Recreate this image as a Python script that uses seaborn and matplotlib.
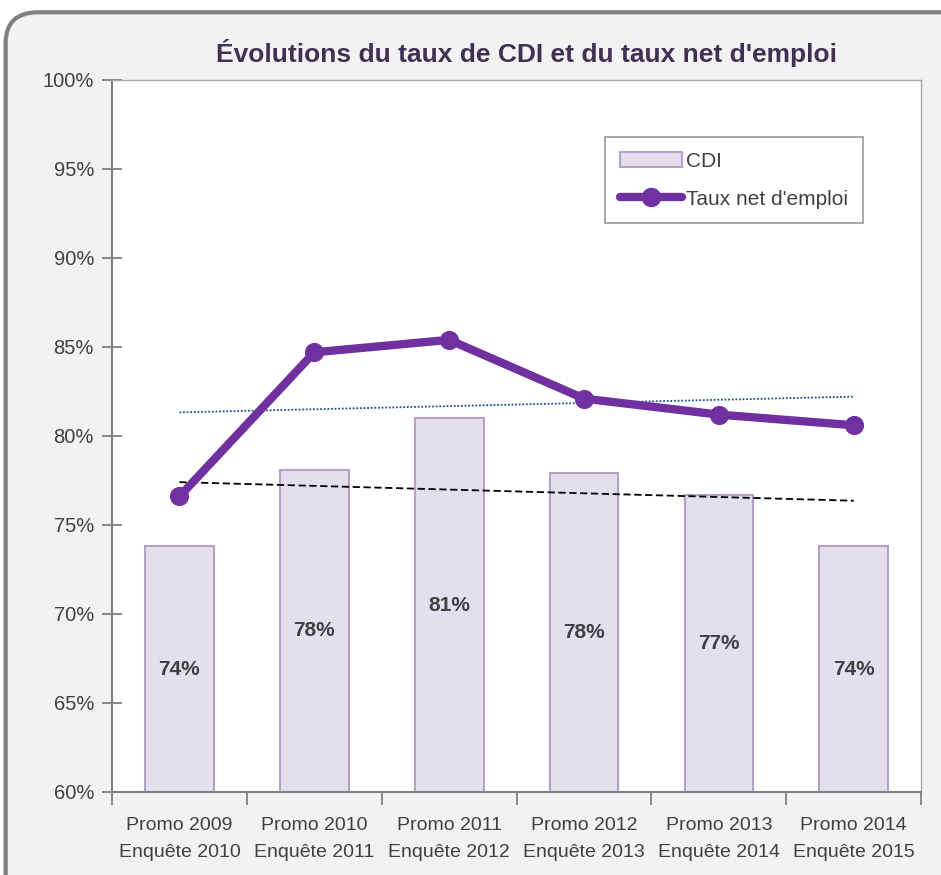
import numpy as np
import pandas as pd
import matplotlib
matplotlib.use("Agg")
import matplotlib.pyplot as plt
import seaborn as sns
from matplotlib.patches import FancyBboxPatch, Patch
from matplotlib.lines import Line2D
from matplotlib.ticker import FixedLocator, FuncFormatter

promos = ["Promo 2009", "Promo 2010", "Promo 2011", "Promo 2012", "Promo 2013", "Promo 2014"]
enquetes = ["Enquête 2010", "Enquête 2011", "Enquête 2012", "Enquête 2013", "Enquête 2014", "Enquête 2015"]
cdi = [73.8, 78.1, 81.0, 77.9, 76.7, 73.8]
taux_net = [76.6, 84.7, 85.4, 82.1, 81.2, 80.6]
cdi_labels = ["74%", "78%", "81%", "78%", "77%", "74%"]

PURPLE = "#7030A0"
BAR_FACE = "#E4DFEC"
BAR_EDGE = "#B3A2C7"
TEXT = "#404040"

sns.set_style("white")
plt.rcParams["font.family"] = ["Liberation Sans Narrow", "Liberation Sans", "DejaVu Sans"]

fig = plt.figure(figsize=(9.41, 8.75), dpi=100)
fig.patch.set_facecolor("white")

# rounded grey frame behind the chart
frame = FancyBboxPatch((0.006, -0.05), 1.05, 1.036,
                       boxstyle="round,pad=0,rounding_size=0.035",
                       transform=fig.transFigure, facecolor="#F2F2F2",
                       edgecolor="#808080", linewidth=3, zorder=-10)
fig.patches.append(frame)

ax = fig.add_axes([0.119, 0.0949, 0.86, 0.8137])
ax.set_zorder(1)
ax.set_facecolor("white")

labels = [f"{p}\n{e}" for p, e in zip(promos, enquetes)]
df = pd.DataFrame({"cat": labels, "cdi": cdi, "taux": taux_net})
idx = np.arange(len(labels))

sns.barplot(data=df, x="cat", y="cdi", ax=ax, color=BAR_FACE, width=0.51,
            edgecolor=BAR_EDGE, linewidth=1.5, saturation=1, zorder=2)

for i, (v, lab) in enumerate(zip(cdi, cdi_labels)):
    ax.text(i, (v + 60) / 2, lab, ha="center", va="center", fontsize=15,
            fontweight="bold", color=TEXT, zorder=5)

# linear trendlines
p_cdi = np.polyfit(idx, cdi, 1)
p_taux = np.polyfit(idx, taux_net, 1)
ends = np.array([idx[0], idx[-1]])
ax.plot(ends, np.polyval(p_cdi, ends), color="black", linestyle=(0, (4, 2)),
        linewidth=1.3, zorder=3)
ax.plot(ends, np.polyval(p_taux, ends), color="#1F4E8C", linestyle=(0, (1, 1)),
        linewidth=1.3, zorder=3)

sns.lineplot(x=idx, y=taux_net, ax=ax, color=PURPLE, linewidth=6, marker="o",
             markersize=13, markeredgecolor=PURPLE, zorder=4)

ax.set_ylim(60, 100)
ax.set_xlim(-0.5, 5.5)
ax.yaxis.set_major_locator(FixedLocator(np.arange(60, 101, 5)))
ax.yaxis.set_major_formatter(FuncFormatter(lambda v, _: f"{int(v)}%"))
ax.set_xlabel("")
ax.set_ylabel("")

ax.set_xticks(np.arange(-0.5, 6, 1))
ax.set_xticklabels([])
ax.set_xticks(idx, minor=True)
ax.set_xticklabels(labels, minor=True, fontsize=14, color=TEXT, linespacing=1.75)
ax.tick_params(axis="x", which="major", bottom=True, direction="out", length=9,
               width=1.3, color="#808080")
ax.tick_params(axis="x", which="minor", bottom=True, length=0, pad=18)
ax.tick_params(axis="y", which="major", left=True, direction="inout", length=14,
               width=1.3, color="#808080", labelsize=14.5, labelcolor=TEXT, pad=6)

for side in ["left", "bottom"]:
    ax.spines[side].set_color("#808080")
    ax.spines[side].set_linewidth(1.5)
for side in ["top", "right"]:
    ax.spines[side].set_visible(True)
    ax.spines[side].set_color("#A6A6A6")
    ax.spines[side].set_linewidth(1.0)

handles = [Patch(facecolor=BAR_FACE, edgecolor=BAR_EDGE, linewidth=1.5),
           Line2D([0], [0], color=PURPLE, linewidth=6, marker="o", markersize=13)]
leg = ax.legend(handles, ["CDI", "Taux net d'emploi"], loc="upper right",
                bbox_to_anchor=(0.941, 0.934), fontsize=15, frameon=True,
                fancybox=False, edgecolor="#808080", handlelength=3,
                borderpad=0.7, labelspacing=0.9, handletextpad=0.2)
leg.get_frame().set_linewidth(1.2)
for t in leg.get_texts():
    t.set_color(TEXT)

fig.text(0.56, 1 - 53 / 875, "Évolutions du taux de CDI et du taux net d'emploi",
         ha="center", va="center", fontsize=19, fontweight="bold", color="#403152")

fig.savefig("out.png", dpi=100)
